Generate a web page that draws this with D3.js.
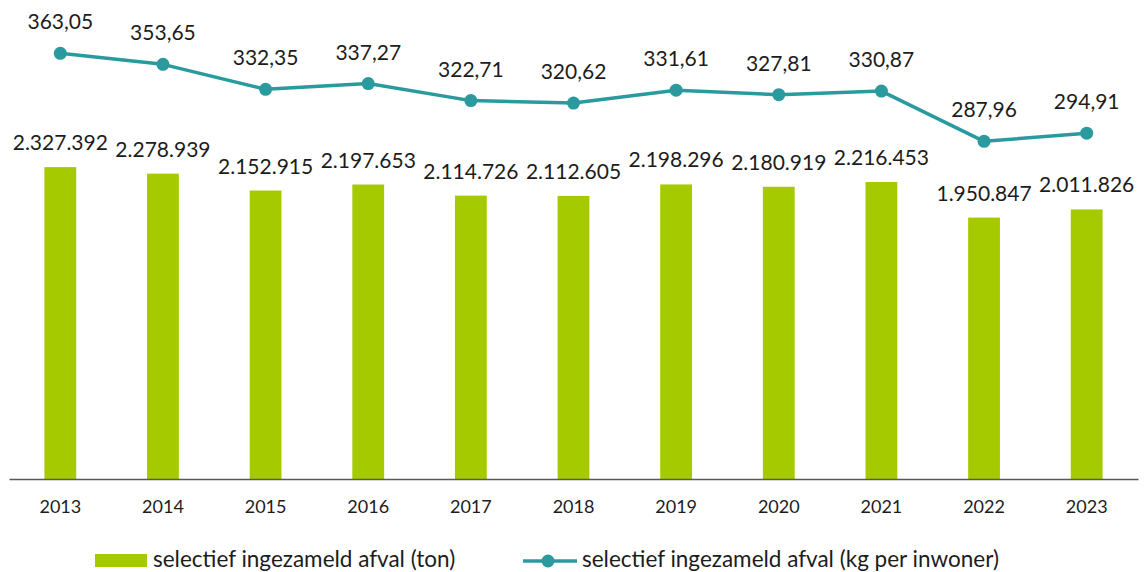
<!DOCTYPE html>
<html>
<head>
<meta charset="utf-8">
<script src="https://cdn.jsdelivr.net/npm/d3@7"></script>
<style>
  body { margin: 0; background: #fff; }
  text { font-family: Lato, "Open Sans", sans-serif; fill: #1c1c1c; }
</style>
</head>
<body>
<div id="chart"></div>
<script>
var years = ["2013", "2014", "2015", "2016", "2017", "2018", "2019", "2020", "2021", "2022", "2023"];
var tons = [2327392, 2278939, 2152915, 2197653, 2114726, 2112605, 2198296, 2180919, 2216453, 1950847, 2011826];
var kgPerInwoner = [363.05, 353.65, 332.35, 337.27, 322.71, 320.62, 331.61, 327.81, 330.87, 287.96, 294.91];
var legendLabels = ["selectief ingezameld afval (ton)", "selectief ingezameld afval (kg per inwoner)"];

var width = 1145, height = 572;
var margin = {top: 10, right: 7, bottom: 93, left: 9};
var barColor = "#a5cb00", lineColor = "#2b9a9f";

var svg = d3.select("#chart").append("svg")
    .attr("width", width)
    .attr("height", height);

var x = d3.scaleBand()
    .domain(years)
    .range([margin.left, width - margin.right])
    .paddingInner(0.69)
    .paddingOuter(0.345);

var yBar = d3.scaleLinear()
    .domain([0, 3500000])
    .range([height - margin.bottom, margin.top]);

var yLine = d3.scaleLinear()
    .domain([0, 400])
    .range([height - margin.bottom, margin.top]);

var fmtTon = function(v) { return d3.format(",")(v).replace(/,/g, "."); };
var fmtKg = function(v) { return d3.format(".2f")(v).replace(".", ","); };

// bars
svg.append("g")
  .selectAll("rect")
  .data(tons)
  .enter().append("rect")
    .attr("x", function(d, i) { return x(years[i]); })
    .attr("y", function(d) { return yBar(d); })
    .attr("width", x.bandwidth())
    .attr("height", function(d) { return yBar(0) - yBar(d); })
    .attr("fill", barColor);

svg.append("g")
  .selectAll("text")
  .data(tons)
  .enter().append("text")
    .attr("x", function(d, i) { return x(years[i]) + x.bandwidth() / 2; })
    .attr("y", function(d) { return yBar(d) - 17; })
    .attr("text-anchor", "middle")
    .style("font-size", "21px")
    .text(fmtTon);

// x axis
var xAxis = svg.append("g")
    .attr("transform", "translate(0," + yBar(0) + ")")
    .call(d3.axisBottom(x).tickSize(0).tickPadding(21));
xAxis.select(".domain").attr("stroke", "#595959").attr("stroke-width", 1.5);
xAxis.selectAll("text").style("font-size", "18px").attr("fill", "#1c1c1c");

// line
var cx = function(d, i) { return x(years[i]) + x.bandwidth() / 2; };
var line = d3.line()
    .x(cx)
    .y(function(d) { return yLine(d); });

svg.append("path")
    .datum(kgPerInwoner)
    .attr("fill", "none")
    .attr("stroke", lineColor)
    .attr("stroke-width", 3.5)
    .attr("stroke-linejoin", "round")
    .attr("d", line);

svg.append("g")
  .selectAll("circle")
  .data(kgPerInwoner)
  .enter().append("circle")
    .attr("cx", cx)
    .attr("cy", function(d) { return yLine(d); })
    .attr("r", 6.5)
    .attr("fill", lineColor);

svg.append("g")
  .selectAll("text")
  .data(kgPerInwoner)
  .enter().append("text")
    .attr("x", cx)
    .attr("y", function(d) { return yLine(d) - 24; })
    .attr("text-anchor", "middle")
    .style("font-size", "21px")
    .text(fmtKg);

// legend
var legend = svg.append("g");
legend.append("rect")
    .attr("x", 95).attr("y", 554)
    .attr("width", 52).attr("height", 13)
    .attr("fill", barColor);
legend.append("text")
    .attr("x", 153).attr("y", 567)
    .style("font-size", "22.5px")
    .text(legendLabels[0]);

legend.append("line")
    .attr("x1", 523).attr("x2", 577)
    .attr("y1", 561).attr("y2", 561)
    .attr("stroke", lineColor)
    .attr("stroke-width", 3.5);
legend.append("circle")
    .attr("cx", 548).attr("cy", 561).attr("r", 6.5)
    .attr("fill", lineColor);
legend.append("text")
    .attr("x", 582).attr("y", 567)
    .style("font-size", "22.5px")
    .text(legendLabels[1]);
</script>
</body>
</html>
